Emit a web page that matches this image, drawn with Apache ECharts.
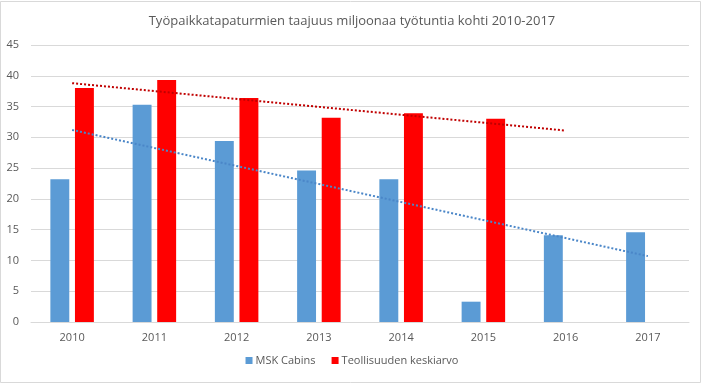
<!DOCTYPE html>
<html><head><meta charset="utf-8">
<script src="https://cdn.jsdelivr.net/npm/echarts@6/dist/echarts.min.js"></script>
<style>html,body{margin:0;padding:0;background:#fff}#c{width:704px;height:385px}</style>
</head><body><div id="c"></div>
<script>
const categories = ['2010','2011','2012','2013','2014','2015','2016','2017'];
const mskCabins = [23.2, 35.3, 29.4, 24.6, 23.2, 3.3, 14.1, 14.6];
const teollisuus = [38.0, 39.3, 36.4, 33.2, 33.9, 33.0, null, null];
const mskTrend = [31.2, null, null, null, null, null, null, 10.7];
const teolTrend = [38.8, null, null, null, null, null, 31.1, null];
const yTicks = [0, 5, 10, 15, 20, 25, 30, 35, 40, 45];

const font = '"Open Sans", sans-serif';
const chart = echarts.init(document.getElementById('c'));
chart.setOption({
  animation: false,
  backgroundColor: '#fff',
  title: {
    text: 'Työpaikkatapaturmien taajuus miljoonaa työtuntia kohti 2010-2017',
    left: 'center', top: 10,
    textStyle: { fontFamily: font, fontSize: 13, fontWeight: 'normal', color: '#595959' }
  },
  graphic: [{ type: 'rect', shape: { x: 0.5, y: 1.5, width: 700, height: 381 },
    style: { fill: null, stroke: '#d9d9d9', lineWidth: 1 }, silent: true }],
  grid: { left: 31, right: 15, top: 45, bottom: 63, containLabel: false },
  legend: {
    bottom: 14, left: 'center', itemWidth: 7, itemHeight: 7, itemGap: 16,
    icon: 'rect',
    data: ['MSK Cabins', 'Teollisuuden keskiarvo'],
    textStyle: { fontFamily: font, fontSize: 11, color: '#595959', padding: [0, 0, 0, -2] }
  },
  xAxis: {
    type: 'category', data: categories,
    axisTick: { show: false },
    axisLine: { lineStyle: { color: '#d9d9d9' } },
    axisLabel: { fontFamily: font, fontSize: 11, color: '#595959', margin: 10 }
  },
  yAxis: {
    type: 'value', min: yTicks[0], max: yTicks[yTicks.length - 1], interval: 5,
    axisLine: { show: false }, axisTick: { show: false },
    splitLine: { lineStyle: { color: '#d9d9d9' } },
    axisLabel: { fontFamily: font, fontSize: 11, color: '#595959', margin: 12 }
  },
  series: [
    { name: 'MSK Cabins', type: 'bar', data: mskCabins, barWidth: '23%', barGap: '30%',
      itemStyle: { color: '#5b9bd5' } },
    { name: 'Teollisuuden keskiarvo', type: 'bar', data: teollisuus, barWidth: '23%',
      itemStyle: { color: '#ff0000' } },
    { name: 'mskTrend', type: 'line', data: mskTrend, connectNulls: true, symbol: 'none',
      lineStyle: { color: '#4a86c8', width: 2, type: [2, 2] }, z: 5 },
    { name: 'teolTrend', type: 'line', data: teolTrend, connectNulls: true, symbol: 'none',
      lineStyle: { color: '#c00000', width: 2, type: [2, 2] }, z: 5 }
  ]
});
</script></body></html>
